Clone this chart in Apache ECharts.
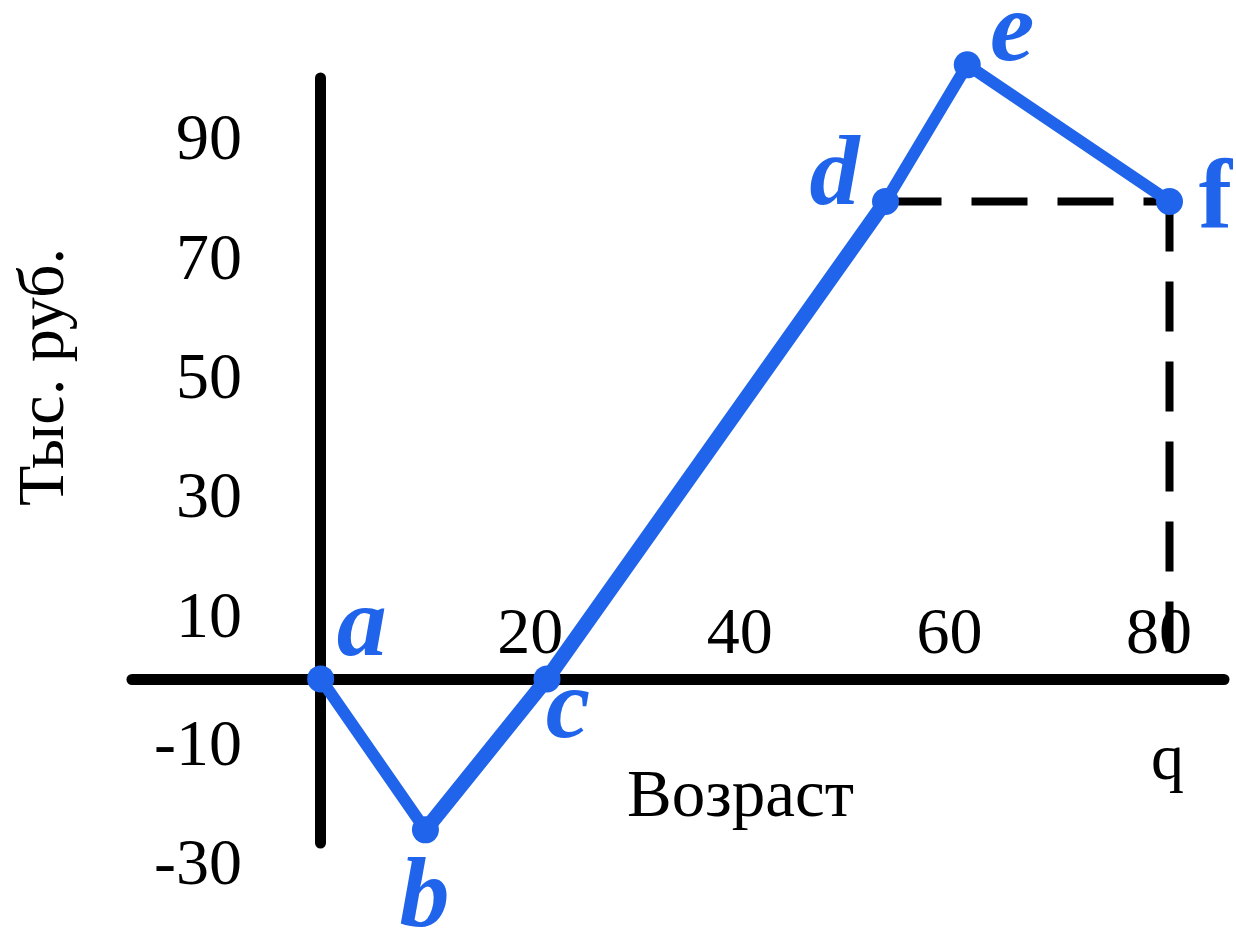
<!DOCTYPE html>
<html>
<head>
<meta charset="utf-8">
<script src="https://cdn.jsdelivr.net/npm/echarts@6/dist/echarts.min.js"></script>
<style>
html,body{margin:0;padding:0;background:#ffffff;}
#chart{width:1236px;height:932px;}
</style>
</head>
<body>
<div id="chart"></div>
<script>
// ---- data ----
const pointNames = ['a', 'b', 'c', 'd', 'e', 'f'];
const pointAge   = [0, 10, 21.6, 53.9, 61.7, 81];
const pointValue = [0, -25.3, 0, 80, 102.9, 80];
const xTickLabels = [20, 40, 60, 80];
const yTickLabels = [-30, -10, 10, 30, 50, 70, 90];
const xAxisTitle = 'Возраст';
const yAxisTitle = 'Тыс. руб.';
const qLabel = 'q';

// ---- style ----
const BLUE = '#1f64ea';
const SERIF = '"Liberation Serif", "Times New Roman", serif';
const labelOffsets = { a: [41, -50], b: [-1, 70], c: [21, 32], d: [-51, -23], e: [45, -31], f: [46, 1] };
const X_MIN = -18, X_MAX = 86.2;
const GRID_LEFT = 132, GRID_RIGHT = 12;

const pt = i => [pointAge[i], pointValue[i]];
const seg = idx => idx.map(pt);

function lineSeries(data, width, color, dash) {
  return {
    type: 'line', data: data, xAxisIndex: 0, yAxisIndex: 0,
    symbol: 'none', clip: false, silent: true, z: dash ? 3 : 4,
    lineStyle: { width: width, color: color, type: dash || 'solid', cap: dash ? 'butt' : 'round', join: 'round' }
  };
}

const chart = echarts.init(document.getElementById('chart'), null, { renderer: 'canvas' });
chart.setOption({
  animation: false,
  backgroundColor: '#ffffff',
  grid: [
    { left: GRID_LEFT, right: GRID_RIGHT, top: 78, bottom: 89, containLabel: false, outerBoundsMode: 'none' },
    { left: 250, right: 900, top: 78, bottom: 14.4, containLabel: false, outerBoundsMode: 'none' },
    { left: GRID_LEFT, right: GRID_RIGHT, top: 78, bottom: 253, containLabel: false, outerBoundsMode: 'none' }
  ],
  xAxis: [
    {
      type: 'value', gridIndex: 0, min: X_MIN, max: X_MAX, interval: 2,
      axisLine: { show: true, onZero: true, lineStyle: { color: '#000', width: 11, cap: 'round' } },
      axisTick: { show: false }, splitLine: { show: false }, axisLabel: { show: false }
    },
    { type: 'value', gridIndex: 1, min: 0, max: 1, show: false },
    {
      type: 'value', gridIndex: 2, min: X_MIN, max: X_MAX, interval: 2, position: 'bottom',
      axisLine: { show: false }, axisTick: { show: false }, splitLine: { show: false },
      axisLabel: {
        show: true, inside: true, margin: 10, color: '#000', fontFamily: SERIF, fontSize: 66,
        formatter: v => (xTickLabels.indexOf(v) >= 0 ? String(v) : '')
      }
    }
  ],
  yAxis: [
    {
      type: 'value', gridIndex: 0, min: -27.5, max: 100.7,
      axisLine: { show: true, onZero: true, lineStyle: { color: '#000', width: 11, cap: 'round' } },
      axisTick: { show: false }, splitLine: { show: false }, axisLabel: { show: false }
    },
    {
      type: 'value', gridIndex: 1, min: -40, max: 100.7, interval: 10, position: 'left',
      axisLine: { show: false }, axisTick: { show: false }, splitLine: { show: false },
      axisLabel: {
        show: true, margin: 8, color: '#000', fontFamily: SERIF, fontSize: 66,
        formatter: v => {
          if (yTickLabels.indexOf(v) < 0) return '';
          return v < 0 ? '{n|' + v + '}' : '{p|' + v + '}';
        },
        rich: {
          n: { color: '#000', fontFamily: SERIF, fontSize: 66, padding: [18, 0, 0, 0] },
          p: { color: '#000', fontFamily: SERIF, fontSize: 66 }
        }
      }
    },
    { type: 'value', gridIndex: 2, min: 0, max: 1, show: false }
  ],
  graphic: [
    {
      type: 'text', x: 627, y: 798, silent: true,
      style: { text: xAxisTitle, fill: '#000', font: '67px ' + SERIF, align: 'left', verticalAlign: 'middle' }
    },
    {
      type: 'text', x: 46, y: 377, rotation: Math.PI / 2, silent: true,
      style: { text: yAxisTitle, fill: '#000', font: '66px ' + SERIF, align: 'center', verticalAlign: 'middle' }
    }
  ],
  series: [
    // guide lines from d to f and from f down to the age axis
    lineSeries([pt(3), pt(5)], 8, '#000', [56, 30]),
    lineSeries([pt(5), [pointAge[5], 0]], 8, '#000', [50, 30]),
    // profile segments
    lineSeries(seg([0, 1]), 12, BLUE),
    lineSeries(seg([1, 2, 3]), 15, BLUE),
    lineSeries(seg([3, 4, 5]), 12, BLUE),
    {
      type: 'scatter', xAxisIndex: 0, yAxisIndex: 0, clip: false, silent: true, z: 6,
      symbol: 'circle', symbolSize: 27, itemStyle: { color: BLUE, opacity: 1 },
      data: pointNames.map((n, i) => ({
        name: n, value: pt(i),
        label: { offset: labelOffsets[n], fontStyle: n === 'f' ? 'normal' : 'italic' }
      })),
      label: {
        show: true, position: 'inside', formatter: '{b}', color: BLUE,
        fontFamily: SERIF, fontWeight: 'bold', fontStyle: 'italic', fontSize: 100,
        textBorderWidth: 0
      }
    },
    {
      type: 'scatter', xAxisIndex: 0, yAxisIndex: 0, clip: false, silent: true, z: 6,
      symbol: 'circle', symbolSize: 1, itemStyle: { color: 'rgba(0,0,0,0)', opacity: 1 },
      data: [{ name: qLabel, value: [pointAge[5], 0] }],
      label: {
        show: true, position: 'inside', formatter: '{b}', color: '#000', offset: [-2, 83],
        fontFamily: SERIF, fontSize: 66, textBorderWidth: 0
      }
    }
  ]
});
</script>
</body>
</html>
